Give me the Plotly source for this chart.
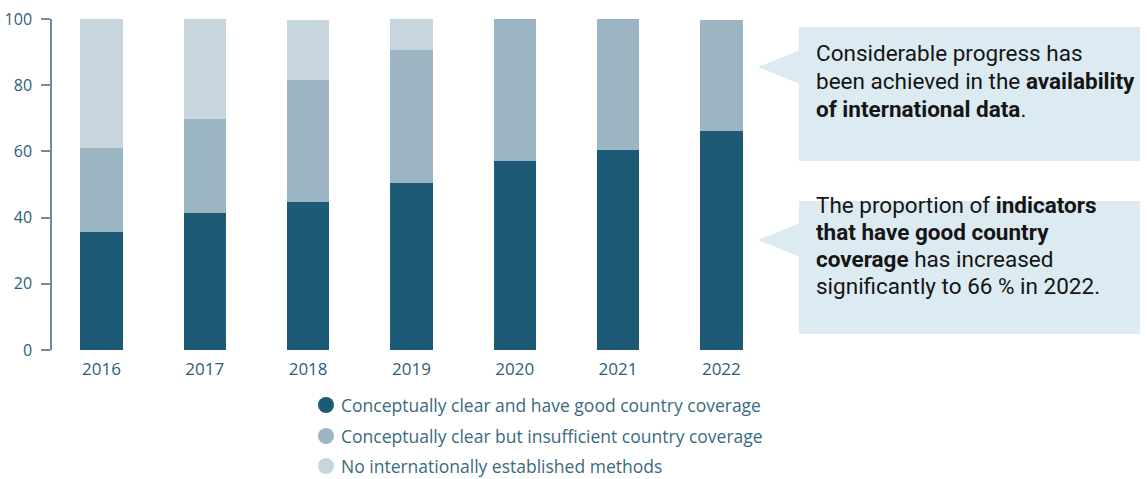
import plotly.graph_objects as go

years = ["2016", "2017", "2018", "2019", "2020", "2021", "2022"]
good_coverage = [35.7, 41.5, 44.8, 50.6, 57.2, 60.3, 66.2]
insufficient_coverage = [25.4, 28.4, 36.7, 40.0, 42.8, 39.7, 33.6]
no_methods = [38.9, 30.1, 18.2, 9.4, 0, 0, 0]

series_names = [
    "Conceptually clear and have good country coverage",
    "Conceptually clear but insufficient country coverage",
    "No internationally established methods",
]
colors = ["#1c5a75", "#9bb5c2", "#c7d6de"]

W, H = 1147, 479
L, R, T, B = 52, 374, 19, 129
pw, ph = W - L - R, H - T - B


def px(x):
    return (x - L) / pw


def py(y):
    return (H - B - y) / ph


fig = go.Figure()
for name, vals, c in zip(series_names, [good_coverage, insufficient_coverage, no_methods], colors):
    fig.add_trace(go.Bar(x=years, y=vals, name=name, marker=dict(color=c, line=dict(width=0)),
                         width=0.41, showlegend=False))

axis_col = "#6d8d9e"
text_col = "#2d5e77"
font_fam = "Open Sans, Lato, sans-serif"

fig.update_layout(
    barmode="stack",
    width=W, height=H,
    margin=dict(l=L, r=R, t=T, b=B, pad=0, autoexpand=False),
    paper_bgcolor="white", plot_bgcolor="white",
    xaxis=dict(range=[-0.479, 6.5], showline=False, showgrid=False, ticks="", automargin=False,
               ticklabelstandoff=7,
               tickfont=dict(family=font_fam, size=17, color=text_col)),
    yaxis=dict(range=[0, 100], tickvals=[0, 20, 40, 60, 80, 100], showgrid=False, zeroline=False,
               showline=True, linecolor=axis_col, linewidth=1.5, ticks="outside", ticklen=9,
               tickcolor=axis_col, tickwidth=1.5, ticklabelstandoff=6, automargin=False,
               tickfont=dict(family=font_fam, size=16, color=text_col)),
    showlegend=False,
)

# Legend (custom, circular markers)
leg_y = [405, 436, 466]
for name, c, yy in zip(series_names, colors, leg_y):
    fig.add_shape(type="circle", xref="paper", yref="paper",
                  x0=px(318), x1=px(334), y0=py(yy - 8), y1=py(yy + 8),
                  fillcolor=c, line=dict(width=0))
    fig.add_annotation(xref="paper", yref="paper", x=px(339), y=py(yy), xanchor="left",
                       yanchor="middle", text=name, showarrow=False,
                       font=dict(family=font_fam, size=17.5, color="#3a6a80"))

# Callout boxes
box_col = "#dcebf2"
callouts = [
    dict(y0=27, y1=161, tip=67, half=17,
         lines=["Considerable progress has",
                "been achieved in the <b>availability</b>",
                "<b>of international data</b>."],
         centers=[52.5, 81, 109]),
    dict(y0=201, y1=334, tip=240, half=17,
         lines=["The proportion of <b>indicators</b>",
                "<b>that have good country</b>",
                "<b>coverage</b> has increased",
                "significantly to 66 % in 2022."],
         centers=[205, 232, 259, 286]),
]
for cb in callouts:
    fig.add_shape(type="rect", xref="paper", yref="paper", x0=px(799), x1=px(1140),
                  y0=py(cb["y1"]), y1=py(cb["y0"]), fillcolor=box_col, line=dict(width=0), layer="below")
    path = "M {} {} L {} {} L {} {} Z".format(px(758), py(cb["tip"]), px(800), py(cb["tip"] - cb["half"]),
                                            px(800), py(cb["tip"] + cb["half"]))
    fig.add_shape(type="path", xref="paper", yref="paper", path=path, fillcolor=box_col,
                  line=dict(width=0), layer="below")
    for line, cy in zip(cb["lines"], cb["centers"]):
        fig.add_annotation(xref="paper", yref="paper", x=px(814), y=py(cy), xanchor="left",
                           yanchor="middle", align="left", text=line, showarrow=False,
                           font=dict(family="Roboto", size=22.5, color="#151515"))

fig.write_html("out.html")
